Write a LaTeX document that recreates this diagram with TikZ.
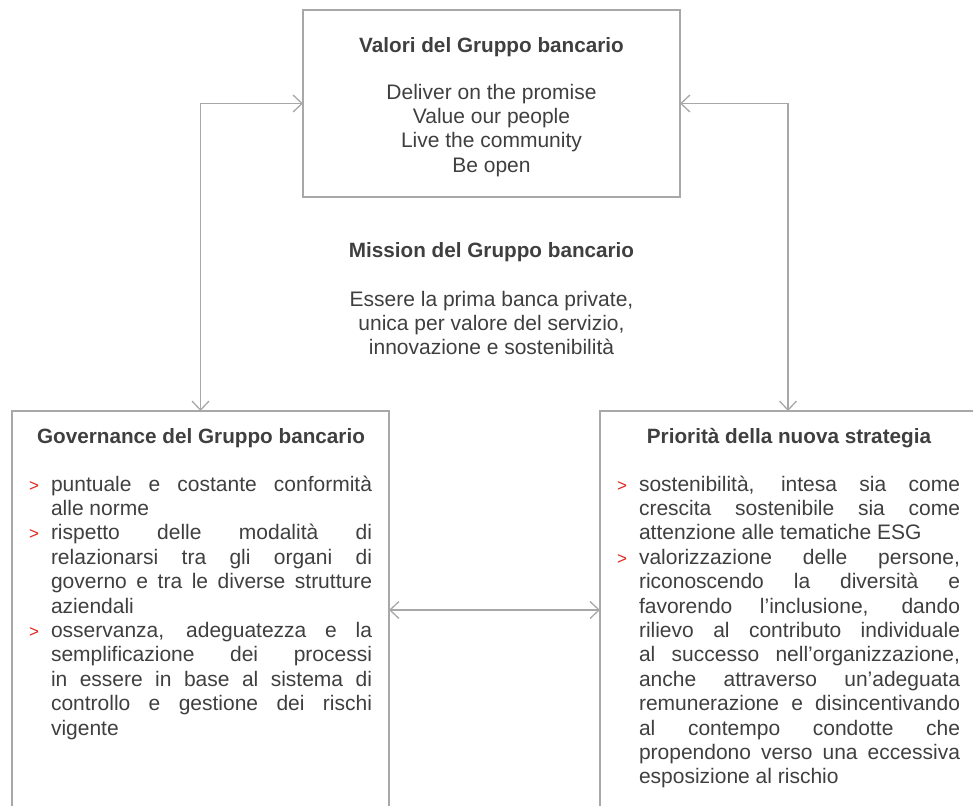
\documentclass[tikz,border=0pt]{standalone}
\usepackage{fontspec}
\setmainfont{Liberation Sans}
\usetikzlibrary{arrows.meta}
\definecolor{txt}{HTML}{3F3F3F}
\definecolor{ln}{HTML}{A8A8A8}
\definecolor{bul}{HTML}{E2231A}
\newcommand\jline[1]{\makebox[321pt][s]{#1}}
\newcommand\lline[1]{\makebox[321pt][l]{#1}}
\begin{document}
\begin{tikzpicture}[x=1pt,y=-1pt,
  every node/.style={inner sep=0pt, outer sep=0pt, text=txt},
  body/.style={font=\fontsize{21}{24}\selectfont, anchor=base},
  ttl/.style={font=\fontsize{20.7}{24}\selectfont\bfseries, anchor=base},
  jl/.style={font=\fontsize{21}{24}\selectfont, anchor=base west},
  bl/.style={font=\fontsize{17}{20}\selectfont, text=bul, anchor=base west},
  frame/.style={draw=ln, line width=1.3pt},
  conn/.style={draw=ln, line width=1.3pt, {Straight Barb[length=9pt,width=17pt]}-{Straight Barb[length=9pt,width=17pt]}}]
\useasboundingbox (0,0) rectangle (973,805);
\begin{scope}
\clip (0,0) rectangle (973,805);
% boxes
\node[frame, minimum width=377pt, minimum height=187pt] (valori) at (491.5,103.5) {};
\node[minimum width=377pt, minimum height=398pt] (gov) at (200.5,610) {};
\node[minimum width=376pt, minimum height=398pt] (prio) at (788,610) {};
\draw[frame] (gov.south west) |- (gov.north east) -- (gov.south east);
\draw[frame] (prio.south west) |- (prio.north east) -- (prio.south east);
% connectors
\draw[conn] (valori.west) -| (gov.north);
\draw[conn] (valori.east) -| (prio.north);
\draw[conn] (gov.east) -- (prio.west);
% top box text
\node[ttl] (vt) at (491.5,53) {Valori del Gruppo bancario};
\node[body] (v1) at (491.5,100) {Deliver on the promise};
\node[body] (v2) at (491.5,124) {Value our people};
\node[body] (v3) at (491.5,148) {Live the community};
\node[body] (v4) at (491.5,172) {Be open};
% mission
\node[ttl] (mt) at (491.5,257) {Mission del Gruppo bancario};
\node[body] (m1) at (491.5,306) {Essere la prima banca private,};
\node[body] (m2) at (491.5,330) {unica per valore del servizio,};
\node[body] (m3) at (491.5,354) {innovazione e sostenibilità};
% governance
\node[ttl] (gt) at (201,443) {Governance del Gruppo bancario};
\node[bl] (gb1) at (29,491) {>};
\node[jl] (g1) at (51,491) {\jline{puntuale e costante conformità}};
\node[jl] (g2) at (51,515.4) {\lline{alle norme}};
\node[bl] (gb2) at (29,539.8) {>};
\node[jl] (g3) at (51,539.8) {\jline{rispetto delle modalità di}};
\node[jl] (g4) at (51,564.2) {\jline{relazionarsi tra gli organi di}};
\node[jl] (g5) at (51,588.6) {\jline{governo e tra le diverse strutture}};
\node[jl] (g6) at (51,613) {\lline{aziendali}};
\node[bl] (gb3) at (29,637.4) {>};
\node[jl] (g7) at (51,637.4) {\jline{osservanza, adeguatezza e la}};
\node[jl] (g8) at (51,661.8) {\jline{semplificazione dei processi}};
\node[jl] (g9) at (51,686.2) {\jline{in essere in base al sistema di}};
\node[jl] (g10) at (51,710.6) {\jline{controllo e gestione dei rischi}};
\node[jl] (g11) at (51,735) {\lline{vigente}};
% priorities
\node[ttl] (pt) at (789,443) {Priorità della nuova strategia};
\node[bl] (pb1) at (617,491) {>};
\node[jl] (p1) at (639,491) {\jline{sostenibilità, intesa sia come}};
\node[jl] (p2) at (639,515.4) {\jline{crescita sostenibile sia come}};
\node[jl] (p3) at (639,539.8) {\lline{attenzione alle tematiche ESG}};
\node[bl] (pb2) at (617,564.2) {>};
\node[jl] (p4) at (639,564.2) {\jline{valorizzazione delle persone,}};
\node[jl] (p5) at (639,588.6) {\jline{riconoscendo la diversità e}};
\node[jl] (p6) at (639,613) {\jline{favorendo l’inclusione, dando}};
\node[jl] (p7) at (639,637.4) {\jline{rilievo al contributo individuale}};
\node[jl] (p8) at (639,661.8) {\jline{al successo nell’organizzazione,}};
\node[jl] (p9) at (639,686.2) {\jline{anche attraverso un’adeguata}};
\node[jl] (p10) at (639,710.6) {\jline{remunerazione e disincentivando}};
\node[jl] (p11) at (639,735) {\jline{al contempo condotte che}};
\node[jl] (p12) at (639,759.4) {\jline{propendono verso una eccessiva}};
\node[jl] (p13) at (639,783.8) {\lline{esposizione al rischio}};
\end{scope}
\end{tikzpicture}
\end{document}
